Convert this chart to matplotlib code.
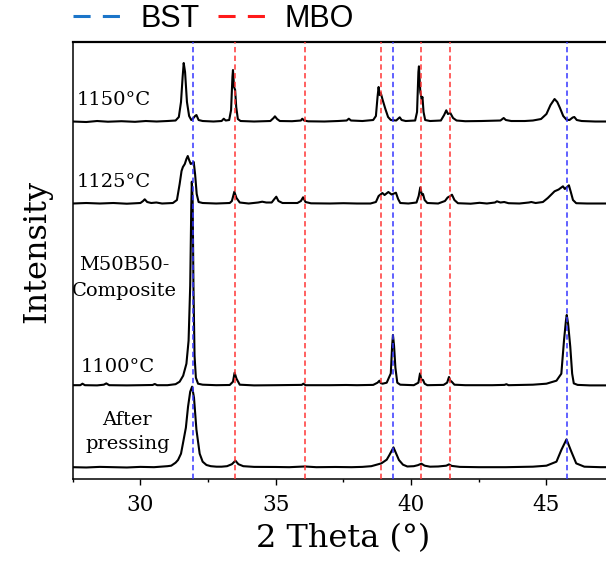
import numpy as np
import matplotlib
matplotlib.use('Agg')
import matplotlib.pyplot as plt
from matplotlib.lines import Line2D
from matplotlib.ticker import MultipleLocator

tt_1150 = [27.5, 28.0, 28.4, 28.8, 29.3, 29.8, 30.2, 30.6, 31.0, 31.3, 31.42, 31.5, 31.56, 31.60, 31.65, 31.72,
           31.8, 31.88, 31.93, 32.02, 32.07, 32.15, 32.3, 32.7, 33.0, 33.08, 33.15, 33.28, 33.35, 33.40, 33.42,
           33.46, 33.50, 33.54, 33.6, 33.7, 34.2, 34.8, 34.92, 34.97, 35.05, 35.15, 35.6, 35.93, 35.98, 36.05,
           36.2, 36.8, 37.3, 37.62, 37.70, 37.78, 38.2, 38.6, 38.70, 38.76, 38.80, 38.84, 38.88, 38.95, 39.05,
           39.15, 39.25, 39.45, 39.55, 39.58, 39.65, 39.8, 40.15, 40.22, 40.27, 40.29, 40.34, 40.39, 40.42,
           40.46, 40.52, 40.7, 41.1, 41.22, 41.3, 41.36, 41.45, 41.55, 41.68, 42.0, 42.6, 43.3, 43.42, 43.5,
           43.7, 44.2, 44.5, 44.8, 45.0, 45.15, 45.3, 45.4, 45.5, 45.62, 45.74, 45.85, 45.97, 46.03, 46.12,
           46.3, 46.8, 47.5]
int_1150 = [0.5, 0.0, 1.0, 0.3, 0.8, 0.2, 1.0, 0.5, 1.0, 1.5, 5, 20, 45, 59, 50, 20,
            6, 2, 3, 6, 7, 2, 1, 0.5, 1, 3.3, 1.5, 2, 12, 45, 52,
            35, 32, 15, 3, 1, 0.5, 1, 4, 5.7, 3, 1, 0.8, 1.5, 3.3, 1.5,
            0.7, 0.5, 1.0, 1.5, 3.3, 1.5, 1, 2, 6, 25, 35, 27, 29, 22, 13,
            5, 2, 1.5, 4, 4.7, 2, 1, 1.5, 10, 50, 55.7, 30, 23, 25,
            10, 2, 1, 1.5, 7, 11.7, 8, 9, 4, 1.5, 0.8, 1, 1.5, 4, 2,
            1, 1, 1.5, 3, 8, 17, 23, 20, 14, 6, 2.3, 2, 4.5, 5, 2,
            1, 0.5, 0.5]

tt_1125 = [27.5, 28.0, 28.5, 29.0, 29.5, 30.0, 30.1, 30.16, 30.25, 30.4, 30.59, 30.8, 31.2, 31.35, 31.45,
           31.52, 31.57, 31.64, 31.70, 31.75, 31.80, 31.86, 31.92, 31.97, 32.02, 32.08, 32.15, 32.3, 32.8,
           33.3, 33.38, 33.47, 33.55, 33.67, 34.0, 34.35, 34.5, 34.65, 34.85, 34.95, 35.02, 35.1, 35.25, 35.8,
           35.93, 36.01, 36.1, 36.3, 37.0, 37.5, 38.0, 38.5, 38.7, 38.8, 38.94, 39.02, 39.16, 39.28, 39.44,
           39.52, 39.6, 39.9, 40.2, 40.28, 40.34, 40.40, 40.44, 40.5, 40.6, 41.0, 41.25, 41.35, 41.45, 41.51,
           41.6, 41.73, 42.2, 42.53, 42.8, 43.1, 43.17, 43.3, 43.44, 43.6, 44.0, 44.35, 44.44, 44.6, 44.87,
           45.05, 45.2, 45.30, 45.45, 45.61, 45.68, 45.76, 45.83, 45.9, 45.98, 46.1, 46.5, 47.5]
int_1125 = [0.5, 1, 0.5, 1, 0.3, 1, 3, 4.7, 2, 1, 1.5, 0.5, 1, 4, 20,
            33, 37, 40, 45, 48, 44, 40, 41, 42, 30, 10, 2, 1, 0.5,
            1, 3, 12.3, 6, 1.5, 0.5, 1.5, 2.3, 1.5, 1.5, 5, 7.3, 3, 1, 1,
            3, 6.7, 2, 0.7, 0.5, 0.8, 0.5, 0.5, 2, 8, 11, 9, 12, 9.5, 11.3,
            5, 1, 0.5, 1.5, 8, 16.7, 9, 10, 4, 1, 0.5, 3, 6.5, 8, 9.3,
            4, 0.8, 0.3, 1.2, 0.5, 1.5, 2.7, 1.5, 2, 0.8, 0.5, 1.5, 2, 1, 2,
            6, 10, 12.7, 14.5, 17.7, 15, 17, 18.7, 12, 4, 0.8, 0.5, 0.5]

tt_1100 = [27.5, 27.78, 27.86, 27.95, 28.4, 28.65, 28.74, 28.85, 29.5, 30.0, 30.45, 30.53, 30.62, 31.0,
           31.3, 31.45, 31.58, 31.70, 31.78, 31.84, 31.88, 31.90, 31.93, 31.96, 32.00, 32.05, 32.13, 32.3,
           32.8, 33.3, 33.42, 33.48, 33.55, 33.67, 34.2, 35.0, 35.96, 36.02, 36.1, 37.0, 37.6, 38.0, 38.6,
           38.76, 38.83, 38.88, 38.95, 39.1, 39.18, 39.25, 39.30, 39.33, 39.37, 39.42, 39.49, 39.6, 40.1,
           40.27, 40.33, 40.38, 40.44, 40.5, 40.6, 41.2, 41.33, 41.40, 41.45, 41.5, 41.6, 42.0, 43.0, 43.45,
           43.52, 43.6, 44.5, 45.0, 45.37, 45.55, 45.65, 45.72, 45.75, 45.8, 45.88, 45.95, 46.01, 46.15,
           46.6, 47.5]
int_1100 = [0.5, 0.5, 2, 0.5, 0.3, 1, 2.3, 0.5, 0.3, 0.5, 0.7, 1.7, 0.5, 0.5,
            1.5, 4, 10, 22, 45, 100, 180, 204, 185, 100, 30, 8, 2, 1,
            0.5, 0.7, 4, 13, 7, 1, 0.3, 0.5, 0.8, 2, 0.5, 0.5, 0.7, 0.5, 0.8,
            3, 5, 2.5, 2, 3, 8, 12.3, 40, 50.7, 40, 18, 3, 1, 0.5,
            3, 12.3, 6, 5.7, 2, 0.5, 0.8, 3, 8.7, 5, 4, 1, 0.5, 0.5, 0.8,
            1.5, 0.5, 1, 2, 5, 12, 45.7, 65, 70.7, 62, 39, 12, 2.3, 0.8,
            0.3, 0.3]

tt_press = [27.5, 28.0, 28.5, 29.0, 29.5, 30.0, 30.5, 31.0, 31.14, 31.3, 31.39, 31.5, 31.57, 31.68, 31.76,
            31.84, 31.91, 31.98, 32.07, 32.19, 32.3, 32.44, 32.6, 32.81, 33.0, 33.2, 33.38, 33.51, 33.62,
            33.8, 34.2, 35.0, 35.5, 36.07, 36.5, 37.2, 37.8, 38.2, 38.53, 38.9, 39.1, 39.2, 39.35, 39.45,
            39.55, 39.7, 39.86, 40.1, 40.25, 40.38, 40.5, 40.7, 41.0, 41.3, 41.4, 41.5, 41.8, 42.5, 43.5,
            44.5, 45.0, 45.37, 45.55, 45.74, 45.92, 46.1, 46.4, 47.0, 47.5]
int_press = [0.5, 0.2, 0.8, 0.5, 0.2, 0.8, 0.5, 1.5, 2, 5, 7.7, 14, 24, 40, 61,
             76, 81, 70, 38, 14, 6, 2.7, 1.5, 1, 1, 1.5, 3.5, 7, 3.5,
             1.5, 0.8, 0.7, 0.5, 1.2, 0.5, 0.7, 0.5, 0.8, 1.5, 4.3, 8, 12.7, 20.3, 14,
             7.7, 3, 1.2, 1.5, 2.5, 4, 2, 1, 1.2, 2, 3.3, 1.8, 0.8, 0.5, 0.5,
             1, 2, 6, 17.7, 28.3, 16, 4.3, 1, 0.5, 0.5]

traces = [(tt_press, int_press), (tt_1100, int_1100), (tt_1125, int_1125), (tt_1150, int_1150)]
offsets = [11.3, 93.3, 275, 357]

bst_pos = [31.93, 39.32, 45.77]
mbo_pos = [33.48, 36.07, 38.88, 40.35, 41.43]

plt.rcParams['font.family'] = 'DejaVu Serif'

fig = plt.figure(figsize=(6.06, 5.61), dpi=100)
ax = fig.add_axes([0.12, 0.1462, 1.0134 - 0.12, 0.7789])

for (tt, inten), off in zip(traces, offsets):
    ax.plot(tt, np.array(inten) + off, color='black', lw=1.5, zorder=2)

for p in bst_pos:
    ax.axvline(p, color='#3535ff', lw=1.1, ls=(0, (3.5, 2.2)), zorder=3)
for p in mbo_pos:
    ax.axvline(p, color='#ff3535', lw=1.1, ls=(0, (3.5, 2.2)), zorder=3)

ax.set_xlim(27.5, 47.5)
ax.set_ylim(0, 437)
ax.set_yticks([])
ax.xaxis.set_major_locator(MultipleLocator(5))
ax.xaxis.set_minor_locator(MultipleLocator(2.5))
ax.tick_params(axis='x', which='major', direction='out', length=4.2, width=1.0, labelsize=15.5, pad=6.5)
ax.tick_params(axis='x', which='minor', direction='out', length=2.4, width=1.0)
for s in ['left', 'bottom']:
    ax.spines[s].set_linewidth(1.1)
ax.spines['top'].set_linewidth(1.6)

ax.set_xlabel('2 Theta (°)', fontsize=23, labelpad=5)
ax.set_ylabel('Intensity', fontsize=23)
ax.yaxis.set_label_coords(-0.038, 0.52)

fs = 14
ax.text(27.66, 379, '1150°C', fontsize=fs, ha='left', va='center')
ax.text(27.66, 297, '1125°C', fontsize=fs, ha='left', va='center')
ax.text(29.42, 201, 'M50B50-\nComposite', fontsize=fs, ha='center', va='center',
        multialignment='center', linespacing=1.55)
ax.text(27.8, 112, '1100°C', fontsize=fs, ha='left', va='center')
ax.text(29.52, 47, 'After\npressing', fontsize=fs, ha='center', va='center',
        multialignment='center', linespacing=1.45)

handles = [Line2D([], [], color='#1b75c9', lw=2.2, ls=(0, (5.6, 4.0))),
           Line2D([], [], color='#ff1a1a', lw=2.2, ls=(0, (5.6, 4.0)))]
fig.legend(handles, ['BST', 'MBO'], loc='upper left', bbox_to_anchor=(58 / 606, 1.02),
           ncol=2, frameon=False, borderpad=0, handlelength=1.86, handletextpad=0.33,
           columnspacing=0.6, prop={'family': 'Liberation Sans', 'size': 22})

fig.savefig('out.png', dpi=100)
